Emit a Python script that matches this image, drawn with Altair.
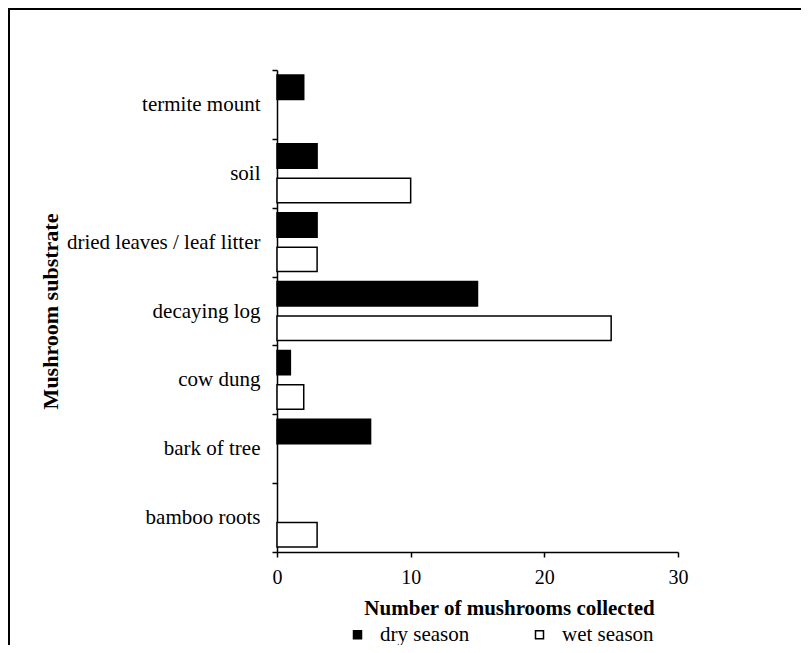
import altair as alt
import pandas as pd

substrates = ["termite mount", "soil", "dried leaves / leaf litter", "decaying log",
              "cow dung", "bark of tree", "bamboo roots"]
dry_season = [2, 3, 3, 15, 1, 7, 0]
wet_season = [0, 10, 3, 25, 2, 0, 3]
seasons = ["dry season", "wet season"]
x_ticks = [0, 10, 20, 30]

rows = []
for s, d, w in zip(substrates, dry_season, wet_season):
    rows.append({"substrate": s, "season": seasons[0], "count": d})
    rows.append({"substrate": s, "season": seasons[1], "count": w})
df = pd.DataFrame(rows)

FONT = "Liberation Serif"
W, H = 401, 482
PL, PT, PR, PB = 269, 62, 123, 93

bars = alt.Chart(df).transform_filter("datum.count > 0").mark_bar(
    stroke="black", strokeWidth=1.5
).encode(
    x=alt.X("count:Q",
            scale=alt.Scale(domain=[0, 30], nice=False),
            axis=alt.Axis(values=x_ticks, title="Number of mushrooms collected",
                          titleX=232, titleY=56, titleBaseline="middle",
                          titleAlign="center", labelPadding=10, labelFlush=False,
                          labelFontSize=20)),
    y=alt.Y("substrate:N", sort=substrates,
            scale=alt.Scale(paddingInner=0, paddingOuter=0),
            axis=alt.Axis(title="Mushroom substrate", tickBand="extent",
                          titleX=-227, titleY=H / 2, titleAlign="center",
                          titleBaseline="middle", labelPadding=12, labelLimit=400,
                          titleFontSize=22,
                          labelExpr="datum.label == 'soil' ? 'soil\u00a0' : datum.label")),
    yOffset=alt.YOffset("season:N", sort=seasons,
                        scale=alt.Scale(paddingInner=0.29, paddingOuter=0.145)),
    fill=alt.Fill("season:N",
                  scale=alt.Scale(domain=seasons, range=["black", "white"]),
                  legend=alt.Legend(title=None, orient="none", direction="horizontal",
                                    legendX=70, legendY=554, symbolType="square",
                                    symbolSize=64, symbolStrokeColor="black",
                                    symbolStrokeWidth=1.5, labelOffset=12,
                                    columnPadding=59, padding=0)),
)

frame_top = alt.Chart(alt.Data(values=[{}])).mark_rule(
    color="black", strokeWidth=2
).encode(x=alt.value(-PL), x2=alt.value(W + PR), y=alt.value(-PT + 1))

frame_left = alt.Chart(alt.Data(values=[{}])).mark_rule(
    color="black", strokeWidth=2
).encode(x=alt.value(-PL + 1), y=alt.value(-PT), y2=alt.value(H + PB))

chart = alt.layer(bars, frame_top, frame_left).properties(
    width=W, height=H,
    autosize=alt.AutoSizeParams(type="none"),
    padding={"left": PL, "top": PT, "right": PR, "bottom": PB},
).configure_view(stroke=None).configure_axis(
    labelFont=FONT, labelFontSize=21, labelColor="black",
    titleFont=FONT, titleFontSize=21, titleFontWeight="bold", titleColor="black",
    domainColor="black", domainWidth=1.5, tickColor="black", tickWidth=1.5,
    tickSize=5, grid=False,
).configure_legend(
    labelFont=FONT, labelFontSize=21, labelColor="black",
)

chart.save("out.html", embed_options={"renderer": "svg", "actions": False})
